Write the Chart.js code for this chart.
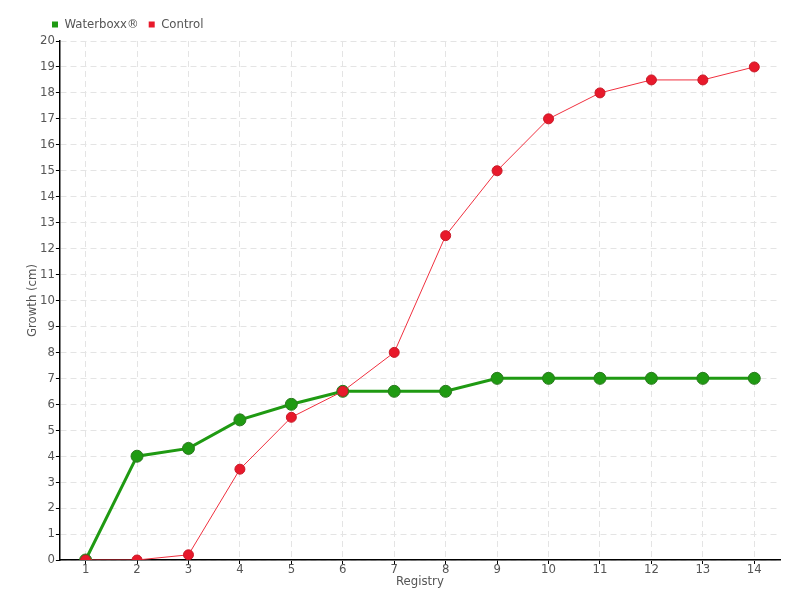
<!DOCTYPE html>
<html>
<head>
<meta charset="utf-8">
<script src="https://cdn.jsdelivr.net/npm/chart.js@4"></script>
<style>
  html, body { margin: 0; padding: 0; background: #fff; }
</style>
</head>
<body>
<canvas id="growthChart" width="800" height="600"></canvas>
<script>
// ─── DATA ───
const registries = ['1', '2', '3', '4', '5', '6', '7', '8', '9', '10', '11', '12', '13', '14'];
const waterboxx = [0, 4, 4.3, 5.4, 6, 6.5, 6.5, 6.5, 7, 7, 7, 7, 7, 7];
const control = [0, 0, 0.2, 3.5, 5.5, 6.5, 8, 12.5, 15, 17, 18, 18.5, 18.5, 19];

const FONT = '"DejaVu Sans Condensed", "Liberation Sans Narrow", sans-serif';
const TEXT = '#555';

// ─── NUDGE LEGEND RIGHT (sits above the plot, not at the canvas edge) ───
const legendShift = {
    id: 'legendShift',
    afterLayout(chart) {
        chart.legend.left += 16;
        chart.legend.right += 16;
    }
};

// ─── CREATE THE CHART ───
const ctx = document.getElementById('growthChart').getContext('2d');
const growthChart = new Chart(ctx, {
    type: 'line',
    data: {
        labels: registries,
        datasets: [
            {
                label: 'Waterboxx®',
                data: waterboxx,
                borderColor: '#1f9a12',
                backgroundColor: '#1f9a12',
                pointBorderColor: '#2a7a1e',
                borderWidth: 3,
                pointRadius: 6,
                pointBorderWidth: 1,
                tension: 0,
                order: 1
            },
            {
                label: 'Control',
                data: control,
                borderColor: '#f0303f',
                backgroundColor: '#e8192b',
                pointBorderColor: '#c81a28',
                borderWidth: 1,
                pointRadius: 5,
                pointBorderWidth: 1,
                tension: 0,
                order: 0
            }
        ]
    },
    options: {
        responsive: false,
        animation: false,
        layout: { padding: { left: 26, right: 20, top: 8, bottom: 12 } },
        scales: {
            x: {
                offset: true,
                grid: { color: '#e4e4e4', tickColor: '#000', tickLength: 4, offset: false },
                border: { color: '#000', width: 1.5, dash: [6, 4] },
                ticks: { color: TEXT, font: { family: FONT, size: 13, lineHeight: 1 }, padding: -1 },
                title: { display: true, text: 'Registry', color: TEXT, font: { family: FONT, size: 13, lineHeight: 1 }, padding: 0 }
            },
            y: {
                min: 0,
                max: 20,
                grid: { color: '#e4e4e4', tickColor: '#000', tickLength: 4 },
                border: { color: '#000', width: 1.5, dash: [6, 4] },
                ticks: { stepSize: 1, color: TEXT, font: { family: FONT, size: 13 }, padding: 1 },
                title: { display: true, text: 'Growth (cm)', color: TEXT, font: { family: FONT, size: 13, lineHeight: 1 }, padding: { top: 0, bottom: 0 } }
            }
        },
        plugins: {
            legend: {
                position: 'top',
                align: 'start',
                labels: {
                    boxWidth: 6,
                    boxHeight: 6,
                    padding: 10,
                    color: TEXT,
                    font: { family: FONT, size: 13 },
                    sort: (a, b) => a.datasetIndex - b.datasetIndex,
                    generateLabels: (chart) => Chart.defaults.plugins.legend.labels.generateLabels(chart)
                        .map(item => Object.assign(item, { lineWidth: 0 }))
                }
            },
            tooltip: { enabled: false }
        }
    },
    plugins: [legendShift]
});
</script>
</body>
</html>
